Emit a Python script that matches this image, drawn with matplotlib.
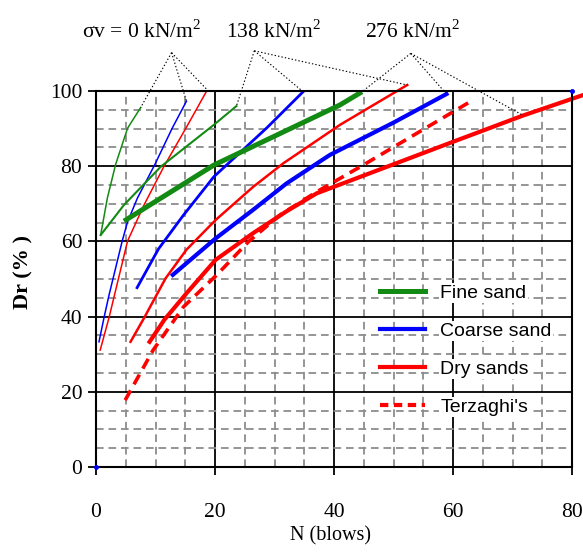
import matplotlib
matplotlib.use("Agg")
import matplotlib.pyplot as plt
from matplotlib.lines import Line2D
from matplotlib.ticker import MultipleLocator

plt.rcParams['font.family'] = ['Liberation Serif', 'DejaVu Serif']
plt.rcParams['mathtext.fontset'] = 'custom'
plt.rcParams['mathtext.rm'] = 'Liberation Serif'
plt.rcParams['lines.scale_dashes'] = False

GREEN = '#138a13'
BLUE = '#0000ff'
RED = '#ff0000'

# sigma_v = 0 kN/m2 (thin lines)
fine0_n = [0.78, 1.9, 3.3, 5.3, 7.5]
fine0_dr = [61.7, 71.5, 80.5, 90.1, 95.6]
coarse0_n = [0.5, 1.34, 2.18, 4.4, 5.3, 6.95, 9.9, 12.8, 15.2]
coarse0_dr = [33.3, 39.7, 45.7, 60.1, 65.2, 71.5, 80.5, 90.1, 97.3]
dry0_n = [0.7, 2.18, 5.3, 8.07, 11.4, 15.1, 18.7]
dry0_dr = [31.1, 39.7, 60.1, 69.7, 79.9, 90.1, 100.3]

# sigma_v = 138 kN/m2 (medium lines)
fine138_n = [0.78, 4.7, 10.9, 19.8, 23.6]
fine138_dr = [61.7, 69.7, 79.9, 91.0, 96.0]
coarse138_n = [6.9, 10.5, 14.7, 19.8, 28.7, 34.8]
coarse138_dr = [47.7, 58.0, 67.0, 77.2, 90.2, 99.8]
dry138_n = [5.8, 8.1, 11.7, 15.2, 20.1, 26.4, 31.5, 41.0, 52.3]
dry138_dr = [33.3, 39.7, 50.2, 57.8, 65.7, 74.5, 80.8, 91.0, 101.6]

# sigma_v = 276 kN/m2 (thick lines)
fine276_n = [4.7, 19.8, 41.0, 44.7]
fine276_dr = [65.4, 80.3, 96.3, 99.8]
coarse276_n = [12.9, 20.1, 26.4, 32.0, 39.3, 50.0, 58.9]
coarse276_dr = [51.1, 60.8, 68.4, 75.4, 83.0, 91.6, 99.2]
dry276_n = [9.0, 11.5, 15.2, 20.1, 26.4, 32.0, 37.1, 60.0, 71.8, 81.8]
dry276_dr = [33.3, 39.2, 46.2, 55.1, 62.2, 68.0, 72.8, 86.5, 93.5, 98.9]

# Terzaghi
terz_n = [4.9, 9.6, 14.7, 20.3, 25.6, 30.9, 37.1, 44.9, 62.6]
terz_dr = [17.8, 31.1, 42.6, 51.1, 59.9, 67.0, 73.2, 80.3, 96.9]

corner_n = [0, 80]
corner_dr = [0, 100]

# labels above the plot and where their pointer lines meet
stress_labels = [r'σv = 0 kN/m$^2$', r'138 kN/m$^2$', r'276 kN/m$^2$']
label_n = [7.6, 29.8, 53.3]
apex_n = [12.7, 26.6, 52.9]
apex_dr = [110.2, 110.7, 110.0]

fig = plt.figure(figsize=(5.83, 5.56), dpi=100)
ax = fig.add_axes([0.1647, 0.160, 0.8165, 0.6763])

ax.plot(fine0_n, fine0_dr, color=GREEN, lw=1.1)
ax.plot(coarse0_n, coarse0_dr, color=BLUE, lw=1.1)
ax.plot(dry0_n, dry0_dr, color=RED, lw=1.1)

ax.plot(fine138_n, fine138_dr, color=GREEN, lw=1.5)
ax.plot(coarse138_n, coarse138_dr, color=BLUE, lw=2.0)
ax.plot(dry138_n, dry138_dr, color=RED, lw=1.8, clip_on=False)

ax.plot(fine276_n, fine276_dr, color=GREEN, lw=3.6, solid_capstyle='butt')
ax.plot(coarse276_n, coarse276_dr, color=BLUE, lw=3.0)
ax.plot(dry276_n, dry276_dr, color=RED, lw=3.0, clip_on=False)
ax.plot(terz_n, terz_dr, color=RED, lw=2.6, linestyle=(0, (8, 5)))

ax.plot(corner_n, corner_dr, 'o', color=BLUE, ms=2.5, clip_on=False, zorder=5)

# dotted pointer lines from each stress label to its three curves
groups = [
    [(fine0_n, fine0_dr), (coarse0_n, coarse0_dr), (dry0_n, dry0_dr)],
    [(fine138_n, fine138_dr), (coarse138_n, coarse138_dr), (dry138_n, dry138_dr)],
    [(fine276_n, fine276_dr), (coarse276_n, coarse276_dr), (dry276_n[:-1], dry276_dr[:-1])],
]
for i, grp in enumerate(groups):
    for xs, ys in grp:
        ax.plot([apex_n[i], xs[-1]], [apex_dr[i], ys[-1]], color='black',
                lw=0.8, linestyle=(0, (1, 1.5)), clip_on=False)
    ax.text(label_n[i], 115.8, stress_labels[i], fontsize=15.5,
            ha='center', va='center', clip_on=False)

ax.set_xlim(0, 80)
ax.set_ylim(0, 100)
ax.xaxis.set_major_locator(MultipleLocator(20))
ax.yaxis.set_major_locator(MultipleLocator(20))
ax.xaxis.set_minor_locator(MultipleLocator(5))
ax.yaxis.set_minor_locator(MultipleLocator(5))
ax.set_axisbelow(True)
ax.grid(which='major', color='black', lw=1.3, linestyle='-')
ax.grid(which='minor', color='#8c8c8c', lw=1.3, linestyle=(0, (5.5, 3.5)))
ax.tick_params(which='major', direction='out', length=6, width=1.3, labelsize=15.5)
ax.tick_params(axis='x', pad=20)
ax.tick_params(axis='y', pad=4)
ax.tick_params(which='minor', length=0)
for s in ax.spines.values():
    s.set_linewidth(1.5)

ax.set_xlabel('N (blows)', fontsize=14.5)
ax.xaxis.set_label_coords(0.492, -0.158)
ax.set_ylabel('Dr (% )', fontsize=16, fontweight='bold')
ax.yaxis.set_label_coords(-0.132, 0.519)

handles = [
    Line2D([], [], color=GREEN, lw=3.6),
    Line2D([], [], color=BLUE, lw=3.0),
    Line2D([], [], color=RED, lw=3.0),
    Line2D([], [], color=RED, lw=3.0, linestyle=(0, (6, 4))),
]
names = ['Fine sand', 'Coarse sand', 'Dry sands', "Terzaghi's"]
leg = ax.legend(handles, names, loc='upper left', bbox_to_anchor=(0.597, 0.487),
                frameon=False, borderpad=0, borderaxespad=0, handlelength=2.3,
                handletextpad=0.8, labelspacing=1.05,
                prop={'family': 'Liberation Sans', 'size': 14})
for t in leg.get_texts():
    t.set_bbox(dict(facecolor='white', edgecolor='none', pad=1))

fig.savefig('out.png', dpi=100)
